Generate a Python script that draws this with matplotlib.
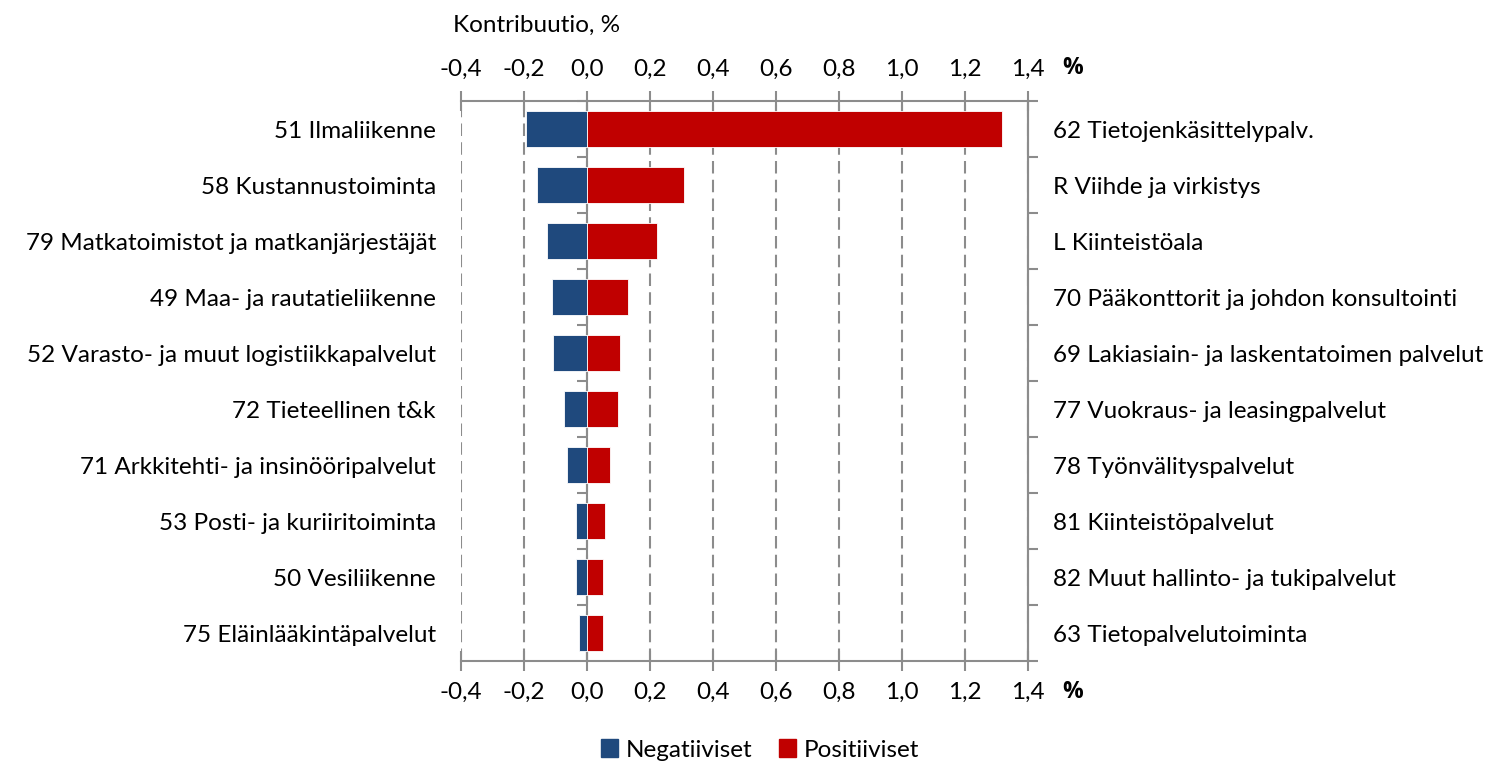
import matplotlib
matplotlib.use("Agg")
import matplotlib.pyplot as plt
from matplotlib.patches import Patch
from matplotlib.ticker import FixedLocator, FuncFormatter

left_labels = ["51 Ilmaliikenne", "58 Kustannustoiminta",
               "79 Matkatoimistot ja matkanjärjestäjät", "49 Maa- ja rautatieliikenne",
               "52 Varasto- ja muut logistiikkapalvelut", "72 Tieteellinen t&k",
               "71 Arkkitehti- ja insinööripalvelut", "53 Posti- ja kuriiritoiminta",
               "50 Vesiliikenne", "75 Eläinlääkintäpalvelut"]
right_labels = ["62 Tietojenkäsittelypalv.", "R Viihde ja virkistys", "L Kiinteistöala",
                "70 Pääkonttorit ja johdon konsultointi",
                "69 Lakiasiain- ja laskentatoimen palvelut",
                "77 Vuokraus- ja leasingpalvelut", "78 Työnvälityspalvelut",
                "81 Kiinteistöpalvelut", "82 Muut hallinto- ja tukipalvelut",
                "63 Tietopalvelutoiminta"]
negative = [-0.195, -0.160, -0.127, -0.112, -0.109, -0.074, -0.062, -0.036, -0.035, -0.026]
positive = [1.316, 0.309, 0.223, 0.131, 0.106, 0.098, 0.074, 0.056, 0.051, 0.051]
x_ticks = [-0.4, -0.2, 0.0, 0.2, 0.4, 0.6, 0.8, 1.0, 1.2, 1.4]

FONT = "Lato"
FS = 17.5
plt.rcParams["font.family"] = [FONT, "DejaVu Sans"]

BLUE = "#1F497D"
RED = "#C00000"
GRID = "#8C8C8C"

fig = plt.figure(figsize=(14.95, 7.64), dpi=100)
ax = fig.add_axes([461 / 1495, 1 - 661 / 764, (1028 - 461) / 1495, (661 - 101) / 764])

y = list(range(len(left_labels)))
ax.barh(y, negative, height=0.65, color=BLUE, edgecolor="white", linewidth=0.6, zorder=3)
ax.barh(y, positive, height=0.65, color=RED, edgecolor="white", linewidth=0.6, zorder=3)

ax.set_xlim(-0.4, 1.4)
ax.set_ylim(len(y) - 0.5, -0.5)

# x axis ticks top and bottom
ax.xaxis.set_major_locator(FixedLocator(x_ticks))
ax.xaxis.set_major_formatter(FuncFormatter(lambda v, p: f"{v:.1f}".replace(".", ",").replace("-0,0", "0,0")))
ax.tick_params(axis="x", which="major", top=True, labeltop=True, bottom=True, labelbottom=True,
               direction="inout", length=14, width=1.5, color=GRID, labelsize=FS, pad=8,
               labelcolor="black")
ax.grid(axis="x", color=GRID, linestyle=(0, (6, 3)), linewidth=1.5, zorder=0)
ax.grid(axis="y", visible=False)

for s in ["top", "bottom", "right"]:
    ax.spines[s].set_color(GRID)
    ax.spines[s].set_linewidth(1.5)
ax.spines["left"].set_visible(False)

# left labels
ax.set_yticks(y)
ax.set_yticklabels(left_labels, fontsize=FS)
ax.tick_params(axis="y", which="major", length=0, pad=18)

# zero line with category boundary ticks
zero_pos = (0 - (-0.4)) / (1.4 - (-0.4))
zax = ax.secondary_yaxis(zero_pos)
zax.set_yticks([i + 0.5 for i in y[:-1]] + [-0.5])
zax.set_yticklabels([])
zax.tick_params(axis="y", direction="out", length=7, width=1.5, color=GRID)
zax.spines["left"].set_color(GRID)
zax.spines["left"].set_linewidth(1.5)
for s in ["right", "top", "bottom"]:
    zax.spines[s].set_visible(False)

# right labels
rax = ax.secondary_yaxis("right")
rax.set_yticks(y)
rax.set_yticklabels(right_labels, fontsize=FS)
rax.yaxis.set_minor_locator(FixedLocator([i + 0.5 for i in y[:-1]] + [-0.5, len(y) - 0.5]))
rax.tick_params(axis="y", which="major", length=0, pad=18)
rax.tick_params(axis="y", which="minor", direction="out", length=7, width=1.5, color=GRID)
rax.spines["right"].set_color(GRID)
rax.spines["right"].set_linewidth(1.5)

fig.text(453 / 1495, 1 - 25 / 764, "Kontribuutio, %", fontsize=FS, ha="left", va="center")
fig.text(1073 / 1495, 1 - 68 / 764, "%", fontsize=FS - 1, fontweight="bold", ha="center",
         va="center", family="Open Sans")
fig.text(1073 / 1495, 1 - 692 / 764, "%", fontsize=FS - 1, fontweight="bold", ha="center",
         va="center", family="Open Sans")

handles = [Patch(color=BLUE, label="Negatiiviset"), Patch(color=RED, label="Positiiviset")]
fig.legend(handles=handles, loc="center", bbox_to_anchor=(760 / 1495, 1 - 750 / 764), ncol=2,
           frameon=False, fontsize=FS, handlelength=0.7, handleheight=0.7, handletextpad=0.3,
           columnspacing=1.1)

fig.savefig("out.png", dpi=100)
